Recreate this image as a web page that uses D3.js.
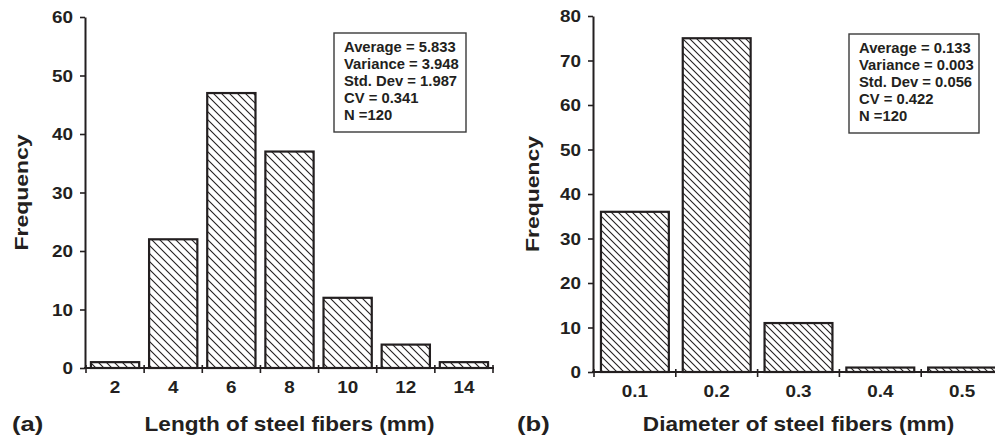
<!DOCTYPE html>
<html>
<head>
<meta charset="utf-8">
<script src="https://cdn.jsdelivr.net/npm/d3@7"></script>
<style>
  html, body { margin: 0; padding: 0; background: #fff; }
  svg { display: block; }
  text { font-family: "Liberation Sans", Arial, sans-serif; font-weight: bold; fill: #231f20; }
</style>
</head>
<body>
<svg id="chart" width="995" height="436"></svg>
<script>
// Fiber length histogram (panel a)
const lengthCategories = ["2", "4", "6", "8", "10", "12", "14"];
const lengthFrequency = [1, 22, 47, 37, 12, 4, 1];
const lengthYTicks = [0, 10, 20, 30, 40, 50, 60];
const lengthStats = ["Average = 5.833", "Variance = 3.948", "Std. Dev = 1.987", "CV = 0.341", "N =120"];

// Fiber diameter histogram (panel b)
const diameterCategories = ["0.1", "0.2", "0.3", "0.4", "0.5"];
const diameterFrequency = [36, 75, 11, 1, 1];
const diameterYTicks = [0, 10, 20, 30, 40, 50, 60, 70, 80];
const diameterStats = ["Average = 0.133", "Variance = 0.003", "Std. Dev = 0.056", "CV = 0.422", "N =120"];

const svg = d3.select("#chart");
const ink = "#231f20";
const defs = svg.append("defs");

function hatch(id, step) {
  const p = defs.append("pattern")
    .attr("id", id)
    .attr("patternUnits", "userSpaceOnUse")
    .attr("width", step).attr("height", step);
  p.append("rect").attr("width", step).attr("height", step).attr("fill", "#fff");
  p.append("path")
    .attr("d", `M0,0L${step},${step}M${-step / 2},${step / 2}L${step / 2},${step * 1.5}M${step / 2},${-step / 2}L${step * 1.5},${step / 2}`)
    .attr("stroke", ink).attr("stroke-width", 1.1);
}
hatch("hatchA", 8);
hatch("hatchB", 7);

function panel(cfg) {
  const g = svg.append("g");
  const x = d3.scaleBand()
    .domain(cfg.categories)
    .range([cfg.x0, cfg.x1])
    .paddingInner(0.17)
    .paddingOuter(0.085);
  const y = d3.scaleLinear().domain([0, cfg.yMax]).range([cfg.y0, cfg.y1]);
  const sx = 1.18;

  // bars
  g.selectAll("rect.bar")
    .data(cfg.values)
    .join("rect")
    .attr("class", "bar")
    .attr("x", (d, i) => x(cfg.categories[i]))
    .attr("width", x.bandwidth())
    .attr("y", d => y(d))
    .attr("height", d => y(0) - y(d))
    .attr("fill", `url(#${cfg.pattern})`)
    .attr("stroke", ink)
    .attr("stroke-width", 2.2);

  // y axis
  const yAxis = g.append("g")
    .attr("transform", `translate(${cfg.x0 - 1},0)`)
    .call(d3.axisLeft(y).tickValues(cfg.yTicks).tickSize(5).tickSizeOuter(0).tickPadding(0));
  yAxis.select(".domain").attr("stroke", ink).attr("stroke-width", 2);
  yAxis.selectAll(".tick line").attr("stroke", ink).attr("stroke-width", 1.6);
  yAxis.selectAll(".tick text")
    .attr("x", -12 / sx)
    .attr("dy", "0.36em")
    .attr("transform", `scale(${sx},1)`)
    .style("font-size", "16px")
    .attr("fill", ink);

  // x axis: labels at band centres, ticks at band boundaries
  const xAxis = g.append("g")
    .attr("transform", `translate(0,${cfg.y0})`)
    .call(d3.axisBottom(x).tickSize(0).tickSizeOuter(0));
  xAxis.select(".domain").attr("d", `M${cfg.x0 - 2},0H${cfg.x1 + 1}`).attr("stroke", ink).attr("stroke-width", 2);
  xAxis.selectAll(".tick text")
    .attr("y", 0).attr("dy", 0)
    .attr("transform", `translate(0,25) scale(${sx},1)`)
    .style("font-size", "16px")
    .attr("fill", ink);
  const step = x.step();
  const bounds = d3.range(cfg.categories.length + 1).map(i => cfg.x0 + i * step);
  xAxis.selectAll("line.bound")
    .data(bounds)
    .join("line")
    .attr("class", "bound")
    .attr("x1", d => d).attr("x2", d => d)
    .attr("y1", -3).attr("y2", 5)
    .attr("stroke", ink).attr("stroke-width", 1.6);

  // axis titles
  g.append("text")
    .attr("transform", `translate(${(cfg.x0 + cfg.x1) / 2},${cfg.titleY}) scale(1.13,1)`)
    .attr("text-anchor", "middle")
    .style("font-size", "20px")
    .text(cfg.xTitle);
  g.append("text")
    .attr("transform", `translate(${cfg.yTitleX},${(cfg.y0 + cfg.y1) / 2}) rotate(-90) scale(1.24,1)`)
    .attr("text-anchor", "middle")
    .style("font-size", "18.5px")
    .text("Frequency");
  g.append("text")
    .attr("transform", `translate(${cfg.tagX},431) scale(1.22,1)`)
    .style("font-size", "21px")
    .text(cfg.tag);

  // statistics box
  const box = g.append("g").attr("transform", `translate(${cfg.box[0]},${cfg.box[1]})`);
  box.append("rect")
    .attr("width", cfg.box[2]).attr("height", cfg.box[3])
    .attr("fill", "#fff").attr("stroke", "#3a3a3a").attr("stroke-width", 1.4);
  box.selectAll("text")
    .data(cfg.stats)
    .join("text")
    .attr("x", 10)
    .attr("y", (d, i) => 19 + i * 17)
    .style("font-size", "14.8px")
    .text(d => d);
}

panel({
  categories: lengthCategories, values: lengthFrequency, yTicks: lengthYTicks, yMax: 60,
  x0: 86, x1: 493, y0: 368, y1: 17, pattern: "hatchA",
  xTitle: "Length of steel fibers (mm)", titleY: 431, yTitleX: 28, tag: "(a)", tagX: 12,
  stats: lengthStats, box: [334, 33, 132, 99]
});

panel({
  categories: diameterCategories, values: diameterFrequency, yTicks: diameterYTicks, yMax: 80,
  x0: 594, x1: 1003, y0: 372, y1: 16, pattern: "hatchB",
  xTitle: "Diameter of steel fibers (mm)", titleY: 431, yTitleX: 539, tag: "(b)", tagX: 517,
  stats: diameterStats, box: [849, 34, 130, 99]
});
</script>
</body>
</html>
